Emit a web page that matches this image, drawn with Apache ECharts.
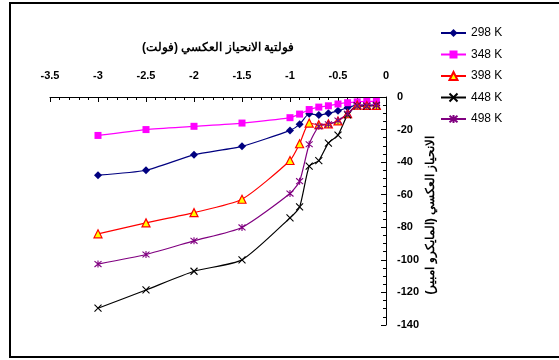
<!DOCTYPE html>
<html>
<head>
<meta charset="utf-8">
<script src="https://cdn.jsdelivr.net/npm/echarts@6/dist/echarts.min.js"></script>
<style>
html,body{margin:0;padding:0;background:#fff;}
#c{width:559px;height:360px;}
</style>
</head>
<body>
<div id="c"></div>
<script>
const voltages = [-3, -2.5, -2, -1.5, -1, -0.9, -0.8, -0.7, -0.6, -0.5, -0.4, -0.3, -0.2, -0.1];
const seriesNames = ['298 K', '348 K', '398 K', '448 K', '498 K'];
const k298 = [-48, -45, -35.5, -30.3, -20.5, -16.8, -10.3, -11, -10, -8.5, -6.5, -5, -5, -5];
const k348 = [-23.6, -20, -18, -16, -12.7, -10.5, -7.7, -6.2, -5.4, -4.3, -3.5, -3, -2.7, -2.7];
const k398 = [-84, -77.3, -71, -62.8, -39, -28.7, -16, -17, -16.5, -14.7, -10.3, -5, -5.2, -5.2];
const k448 = [-129.7, -118.5, -107, -100, -74.2, -67.5, -42.5, -39, -28.3, -23.4, -11, -5.5, -5.6, -5.2];
const k498 = [-102.6, -96.7, -88.3, -80.1, -59.3, -51.7, -29, -18, -16.8, -14.5, -10.3, -5.4, -5.5, -5.2];
const xTitle = 'فولتية الانحياز العكسي (فولت)';
const yTitle = 'الانحياز العكسي (المايكرو امبير)';

const pairs = vals => voltages.map((v, i) => [v, vals[i]]);
const FONT = '"Liberation Sans", Arial, sans-serif';

const styles = [
  {color: '#000080', symbol: 'diamond', size: 8, item: {color: '#000080'}},
  {color: '#FF00FF', symbol: 'rect', size: 7, item: {color: '#FF00FF'}},
  {color: '#FF0000', symbol: 'triangle', size: 8, item: {color: '#FFFF00', borderColor: '#FF0000', borderWidth: 1.2}},
  {color: '#000000', symbol: 'path://M0,0L10,10M10,0L0,10', size: 7, item: {color: 'rgba(0,0,0,0)', borderColor: '#000000', borderWidth: 1.1}},
  {color: '#800080', symbol: 'path://M0,0L10,10M10,0L0,10M5,-1L5,11', size: 7, item: {color: 'rgba(0,0,0,0)', borderColor: '#800080', borderWidth: 1.1}}
];
const allVals = [k298, k348, k398, k448, k498];

const chart = echarts.init(document.getElementById('c'), null, {renderer: 'canvas'});
chart.setOption({
  animation: false,
  backgroundColor: '#fff',
  grid: {left: 50, right: 173, top: 97, bottom: 35, containLabel: false},
  legend: {
    orient: 'vertical', left: 435, top: 22, itemWidth: 25, itemHeight: 10, itemGap: 9.5,
    textStyle: {fontFamily: FONT, fontSize: 12, color: '#000'},
    data: seriesNames
  },
  xAxis: {
    type: 'value', position: 'top', min: -3.5, max: 0, interval: 0.5,
    axisLine: {onZero: false, lineStyle: {color: '#000', width: 1}},
    axisTick: {inside: true, length: 5, lineStyle: {color: '#000'}},
    minorTick: {show: true, splitNumber: 5, length: 3, lineStyle: {color: '#000'}},
    splitLine: {show: false},
    axisLabel: {margin: 16, fontFamily: FONT, fontSize: 11, fontWeight: 'bold', color: '#000'}
  },
  yAxis: {
    type: 'value', position: 'right', min: -140, max: 0, interval: 20,
    axisLine: {show: true, onZero: false, lineStyle: {color: '#000', width: 1}},
    axisTick: {show: true, inside: true, length: 5, lineStyle: {color: '#000'}},
    minorTick: {show: true, splitNumber: 4, length: 3, lineStyle: {color: '#000'}},
    splitLine: {show: false},
    axisLabel: {margin: 11, fontFamily: FONT, fontSize: 11, fontWeight: 'bold', color: '#000'}
  },
  graphic: [
    {type: 'rect', shape: {x: 10, y: 3, width: 700, height: 354}, style: {fill: 'none', stroke: '#000', lineWidth: 2}, silent: true},
    {type: 'text', x: 218, y: 48, style: {text: xTitle, font: 'bold 12px ' + FONT, fill: '#000', textAlign: 'center', textVerticalAlign: 'middle'}},
    {type: 'text', x: 431, y: 215, rotation: Math.PI / 2, style: {text: yTitle, font: 'bold 12px ' + FONT, fill: '#000', textAlign: 'center', textVerticalAlign: 'middle'}}
  ],
  series: seriesNames.map((name, i) => ({
    name: name,
    type: 'line',
    data: pairs(allVals[i]),
    smooth: 0.2,
    symbol: styles[i].symbol,
    symbolSize: styles[i].size,
    lineStyle: {color: styles[i].color, width: 1.2},
    itemStyle: styles[i].item,
    emphasis: {disabled: true}
  }))
});
</script>
</body>
</html>
